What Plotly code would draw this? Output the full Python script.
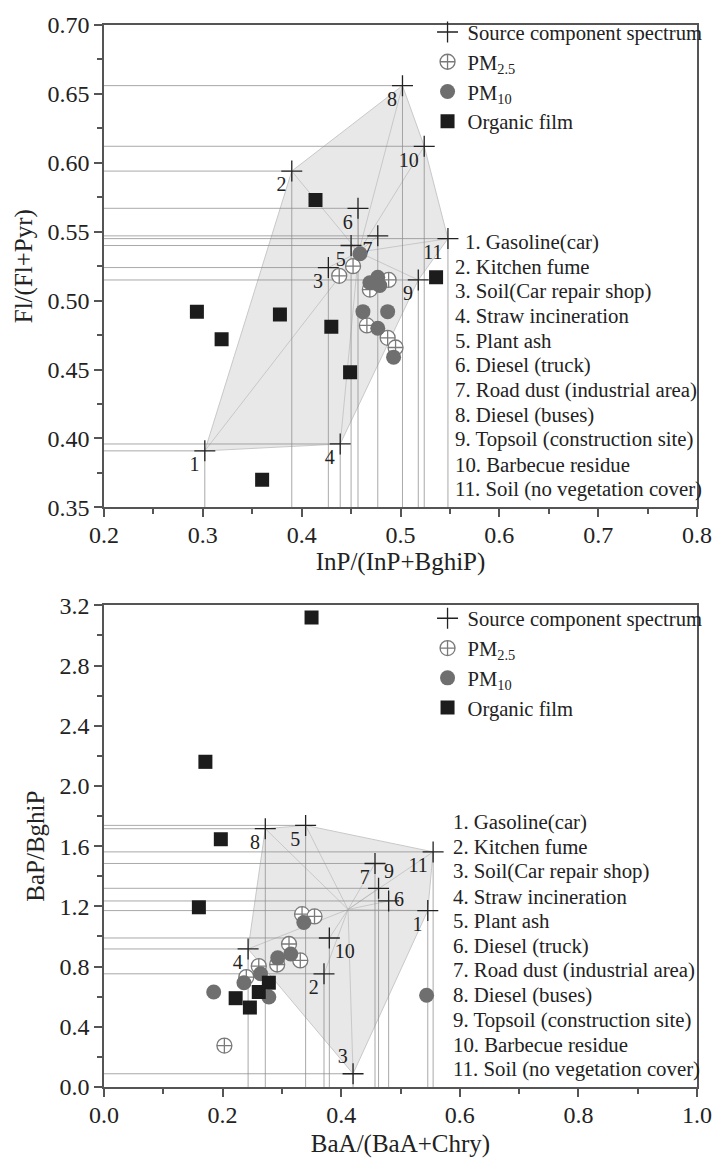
import plotly.graph_objects as go

FONT = "Liberation Serif, Times New Roman, serif"
TXT = "#222222"

# ---------------- data ----------------
src_ids = [str(i) for i in range(1, 12)]
src_names = ["Gasoline(car)", "Kitchen fume", "Soil(Car repair shop)", "Straw incineration",
             "Plant ash", "Diesel (truck)", "Road dust (industrial area)", "Diesel (buses)",
             "Topsoil (construction site)", "Barbecue residue", "Soil (no vegetation cover)"]

# Top panel: InP/(InP+BghiP) vs Fl/(Fl+Pyr)
src1_x = [0.302, 0.390, 0.427, 0.439, 0.450, 0.457, 0.477, 0.502, 0.518, 0.524, 0.548]
src1_y = [0.391, 0.594, 0.524, 0.396, 0.540, 0.567, 0.547, 0.656, 0.515, 0.612, 0.545]
pm25_1_x = [0.438, 0.452, 0.488, 0.469, 0.466, 0.487, 0.495]
pm25_1_y = [0.518, 0.525, 0.515, 0.508, 0.482, 0.473, 0.466]
pm10_1_x = [0.459, 0.477, 0.469, 0.479, 0.462, 0.487, 0.477, 0.493]
pm10_1_y = [0.534, 0.517, 0.513, 0.511, 0.492, 0.492, 0.480, 0.459]
film1_x = [0.414, 0.294, 0.319, 0.378, 0.430, 0.449, 0.360, 0.536]
film1_y = [0.573, 0.492, 0.472, 0.490, 0.481, 0.448, 0.370, 0.517]
hull1 = [1, 2, 8, 10, 11, 9, 4]

# Bottom panel: BaA/(BaA+Chry) vs BaP/BghiP
src2_x = [0.546, 0.371, 0.420, 0.243, 0.340, 0.480, 0.457, 0.272, 0.463, 0.380, 0.555]
src2_y = [1.172, 0.752, 0.088, 0.917, 1.738, 1.236, 1.485, 1.716, 1.320, 0.990, 1.562]
pm25_2_x = [0.334, 0.355, 0.312, 0.331, 0.292, 0.261, 0.240, 0.203]
pm25_2_y = [1.148, 1.133, 0.950, 0.841, 0.814, 0.803, 0.730, 0.275]
pm10_2_x = [0.337, 0.315, 0.293, 0.264, 0.236, 0.185, 0.278, 0.544]
pm10_2_y = [1.093, 0.884, 0.858, 0.752, 0.693, 0.631, 0.598, 0.610]
film2_x = [0.350, 0.171, 0.197, 0.160, 0.222, 0.246, 0.261, 0.278]
film2_y = [3.119, 2.160, 1.646, 1.194, 0.590, 0.528, 0.631, 0.693]
hull2 = [8, 5, 11, 1, 3, 4]

x1_range, y1_range = [0.2, 0.8], [0.35, 0.70]
x2_range, y2_range = [0.0, 1.0], [0.0, 3.2]

# label placement (style)
lab_pos1 = ["bottom left"] * 11
lab_pos2 = ["bottom left", "bottom left", "top left", "bottom left", "bottom left",
            "middle right", "bottom left", "bottom left", "top right", "bottom right",
            "bottom left"]

fig = go.Figure()


def add_panel(xa, ya, sx, sy, p25x, p25y, p10x, p10y, fx, fy, hull, x0, y0, legend, labpos):
    # shaded polygon
    px = [sx[i - 1] for i in hull] + [sx[hull[0] - 1]]
    py = [sy[i - 1] for i in hull] + [sy[hull[0] - 1]]
    fig.add_trace(go.Scatter(x=px, y=py, mode="lines", fill="toself",
                             fillcolor="rgba(205,205,205,0.45)",
                             line=dict(color="rgba(195,195,195,0.9)", width=1),
                             xaxis=xa, yaxis=ya, showlegend=False, hoverinfo="skip"))
    # spokes from centroid
    cx = sum(sx) / len(sx)
    cy = sum(sy) / len(sy)
    spx, spy = [], []
    for x, y in zip(sx, sy):
        spx += [cx, x, None]
        spy += [cy, y, None]
    fig.add_trace(go.Scatter(x=spx, y=spy, mode="lines",
                             line=dict(color="rgba(175,175,175,0.7)", width=0.8),
                             xaxis=xa, yaxis=ya, showlegend=False, hoverinfo="skip"))
    # drop lines
    lx, ly = [], []
    for x, y in zip(sx, sy):
        lx += [x, x, None, x0, x, None]
        ly += [y0, y, None, y, y, None]
    fig.add_trace(go.Scatter(x=lx, y=ly, mode="lines",
                             line=dict(color="rgba(140,140,140,0.75)", width=1),
                             xaxis=xa, yaxis=ya, showlegend=False, hoverinfo="skip"))
    # number labels (invisible marker just sets the text offset)
    fig.add_trace(go.Scatter(x=sx, y=sy, mode="markers+text", text=src_ids,
                             textposition=labpos,
                             marker=dict(size=7, opacity=0),
                             textfont=dict(family=FONT, size=20, color=TXT),
                             xaxis=xa, yaxis=ya, showlegend=False, hoverinfo="skip",
                             cliponaxis=False))
    # source points
    fig.add_trace(go.Scatter(x=sx, y=sy, mode="markers",
                             marker=dict(symbol="cross-thin", size=15,
                                         line=dict(color="#222", width=1.3)),
                             name="Source component spectrum", legend=legend,
                             xaxis=xa, yaxis=ya, cliponaxis=False))
    fig.add_trace(go.Scatter(x=p25x, y=p25y, mode="markers",
                             marker=dict(symbol="circle-cross", size=15, color="white",
                                         line=dict(color="#7a7a7a", width=1.3)),
                             name="PM<sub>2.5</sub>", legend=legend, xaxis=xa, yaxis=ya))
    fig.add_trace(go.Scatter(x=p10x, y=p10y, mode="markers",
                             marker=dict(symbol="circle", size=15, color="#6f6f6f",
                                         line=dict(width=0)),
                             name="PM<sub>10</sub>", legend=legend, xaxis=xa, yaxis=ya))
    fig.add_trace(go.Scatter(x=fx, y=fy, mode="markers",
                             marker=dict(symbol="square", size=14, color="#1c1c1c",
                                         line=dict(width=0)),
                             name="Organic film", legend=legend, xaxis=xa, yaxis=ya))


add_panel("x", "y", src1_x, src1_y, pm25_1_x, pm25_1_y, pm10_1_x, pm10_1_y,
          film1_x, film1_y, hull1, x1_range[0], y1_range[0], "legend", lab_pos1)
add_panel("x2", "y2", src2_x, src2_y, pm25_2_x, pm25_2_y, pm10_2_x, pm10_2_y,
          film2_x, film2_y, hull2, x2_range[0], y2_range[0], "legend2", lab_pos2)

W, H = 724, 1168
ML, MR, MT, MB = 104, 17, 17, 81
PW, PH = W - ML - MR, H - MT - MB


def px2x(p):
    return (p - ML) / PW


def py2y(p):
    return (H - MB - p) / PH


top_dom = [py2y(503), 1.0]
bot_dom = [0.0, py2y(601.7)]

axis_common = dict(showline=True, linecolor="#555", linewidth=1.5, mirror=True,
                   ticks="outside", ticklen=8, tickwidth=1.5, tickcolor="#555",
                   showgrid=False, zeroline=False,
                   tickfont=dict(family=FONT, size=24, color=TXT),
                   title_font=dict(family=FONT, size=25, color=TXT))

minor_style = dict(ticks="outside", ticklen=5, tickwidth=1.5, tickcolor="#555")

fig.update_layout(
    width=W, height=H, margin=dict(l=ML, r=MR, t=MT, b=MB),
    paper_bgcolor="white", plot_bgcolor="white",
    font=dict(family=FONT, color=TXT),
    xaxis=dict(axis_common, range=x1_range, domain=[0, 1], anchor="y", dtick=0.1,
               tickformat=".1f", minor=dict(minor_style, dtick=0.05),
               ticklabelstandoff=-3,
               title=dict(text="InP/(InP+BghiP)", standoff=5)),
    yaxis=dict(axis_common, range=y1_range, domain=top_dom, anchor="x", dtick=0.05,
               tickformat=".2f", minor=dict(minor_style, dtick=0.025),
               title=dict(text="Fl/(Fl+Pyr)", standoff=8)),
    xaxis2=dict(axis_common, range=x2_range, domain=[0, 1], anchor="y2", dtick=0.2,
                tickformat=".1f", minor=dict(minor_style, dtick=0.1),
                ticklabelstandoff=-3,
                title=dict(text="BaA/(BaA+Chry)", standoff=8)),
    yaxis2=dict(axis_common, range=y2_range, domain=bot_dom, anchor="x2", dtick=0.4,
                tickformat=".1f", minor=dict(minor_style, dtick=0.2),
                title=dict(text="BaP/BghiP", standoff=8)),
    legend=dict(x=px2x(433), y=1.0 + 13 / PH, xanchor="left", yanchor="top",
                bgcolor="rgba(0,0,0,0)", font=dict(family=FONT, size=20.6, color=TXT),
                tracegroupgap=0, itemsizing="trace"),
    legend2=dict(x=px2x(433), y=bot_dom[1] + 7 / PH, xanchor="left", yanchor="top",
                 bgcolor="rgba(0,0,0,0)", font=dict(family=FONT, size=20.6, color=TXT),
                 tracegroupgap=0, itemsizing="trace"),
)

# numbered source lists
annots = []
for panel_first, xstart, shift_first in ((235.4, 459, 10), (820.0, 457, 0)):
    for i, name in enumerate(src_names):
        xs = xstart + (shift_first if i == 0 else 0)
        annots.append(dict(text=f"{i + 1}. {name}", xref="paper", yref="paper",
                           x=px2x(xs), y=py2y(panel_first + 24.9 * i),
                           xanchor="left", yanchor="middle", showarrow=False,
                           font=dict(family=FONT, size=20.8, color=TXT)))
fig.update_layout(annotations=annots)

fig.write_html("out.html")
